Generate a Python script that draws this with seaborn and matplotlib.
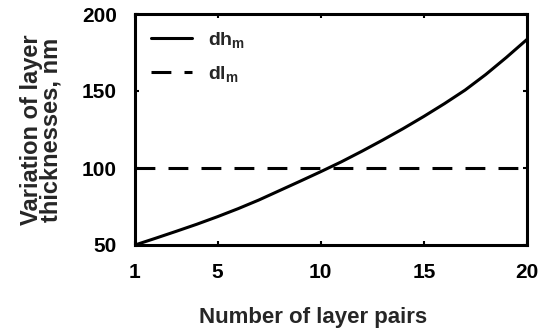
import numpy as np
import pandas as pd
import matplotlib
matplotlib.use("Agg")
import matplotlib.pyplot as plt
import seaborn as sns

layer_pairs = list(range(1, 21))
dh_m = [50, 54.4, 58.9, 63.5, 68.4, 73.6, 79.2, 85.3, 91.4, 97.6,
        104, 110.9, 118.1, 125.6, 133.5, 141.8, 150.6, 160.7, 171.8, 183.5]
dl_m = [100] * 20

x_ticks = [1, 5, 10, 15, 20]
y_ticks = [50, 100, 150, 200]

sns.set_theme(style="ticks")
plt.rcParams['font.family'] = ['Liberation Sans', 'DejaVu Sans']
plt.rcParams['font.weight'] = 'bold'
plt.rcParams['mathtext.fontset'] = 'custom'
plt.rcParams['mathtext.rm'] = 'Liberation Sans:bold'
plt.rcParams['mathtext.it'] = 'Liberation Sans:bold'
plt.rcParams['mathtext.bf'] = 'Liberation Sans:bold'

lab_h = r"dh$\mathrm{_m}$"
lab_l = r"dl$\mathrm{_m}$"
df = pd.DataFrame({
    "n": layer_pairs + layer_pairs,
    "d": dh_m + dl_m,
    "series": [lab_h] * 20 + [lab_l] * 20,
})

fig = plt.figure(figsize=(5.51, 3.29), dpi=100)
ax = fig.add_axes([135 / 551, 1 - 245 / 329, 392 / 551, 231 / 329])
sns.lineplot(data=df, x="n", y="d", style="series", color="black",
             dashes={lab_h: "", lab_l: (6.5, 4.3)}, linewidth=2.2, ax=ax)

ax.set_xlim(1, 20)
ax.set_ylim(50, 200)
ax.set_xticks(x_ticks)
ax.set_yticks(y_ticks)
ax.tick_params(direction="in", length=3, width=1.5, top=True, right=True,
               labelsize=15, colors="black")
ax.tick_params(axis="x", pad=13)
ax.tick_params(axis="y", pad=13)
for lbl in ax.get_xticklabels() + ax.get_yticklabels():
    lbl.set_fontweight("bold")
for s in ax.spines.values():
    s.set_linewidth(2.2)
    s.set_color("black")
ax.set_xlabel("Number of layer pairs", fontsize=16, fontweight="bold", labelpad=17)
ax.xaxis.set_label_coords(0.454, -0.27)
ax.set_ylabel("Variation of layer\nthicknesses, nm", fontsize=17, fontweight="bold",
              labelpad=14, linespacing=0.8)
ax.grid(False)

leg = ax.legend(loc="upper left", frameon=False, fontsize=14, handlelength=2.15,
                handletextpad=0.8, labelspacing=0.75, borderaxespad=0.4)
for line in leg.get_lines():
    line.set_linewidth(2.2)

fig.savefig("out.png", dpi=100)
